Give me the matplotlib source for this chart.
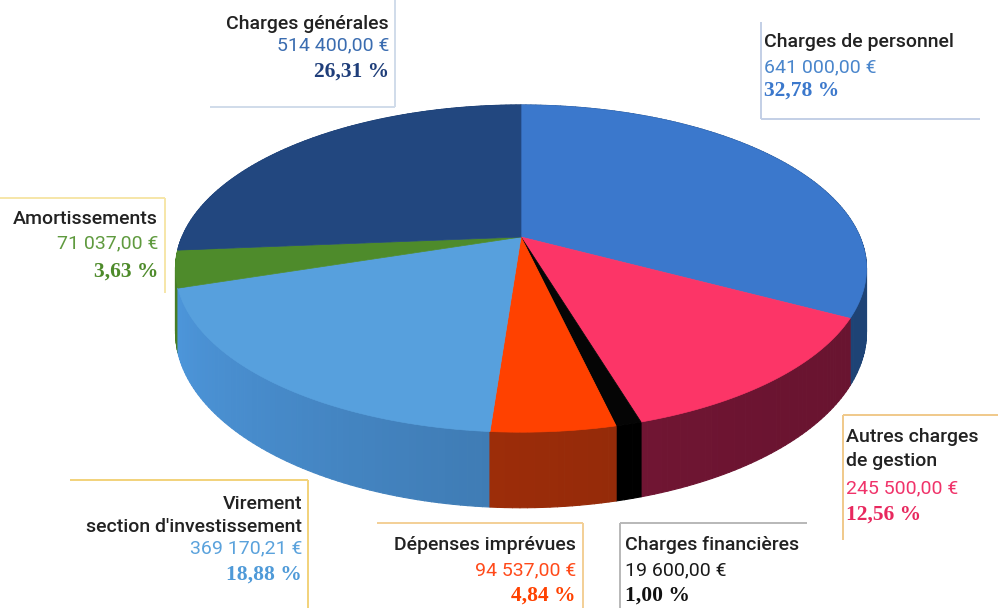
import numpy as np
import matplotlib
matplotlib.use("Agg")
import matplotlib.pyplot as plt
from matplotlib.collections import PolyCollection
from matplotlib.colors import to_rgb

# ---------------- data ----------------
categories = ["Charges de personnel", "Autres charges\nde gestion", "Charges financières",
              "Dépenses imprévues", "Virement\nsection d'investissement",
              "Amortissements", "Charges générales"]
values = [641000.00, 245500.00, 19600.00, 94537.00, 369170.21, 71037.00, 514400.00]
top_colors = ["#3b78cc", "#fc3567", "#050505", "#ff4100", "#57a0dd", "#4e8b2b", "#22477f"]
side_colors = ["#24528f", "#80183a", "#000000", "#a8300a", "#4485c2", "#3f6f20", "#1a3a6a"]
value_colors = ["#4a86cc", "#f0336a", "#1a1a1a", "#ff4a1a", "#5aa2dc", "#5f9a3e", "#3a6cb0"]
pct_colors = ["#3b78cc", "#e8285e", "#111111", "#ff4100", "#4f9ad8", "#4e8b2b", "#1f3e7a"]
border_colors = ["#c3cfe6", "#f0c98a", "#b8b8b8", "#f3cf96", "#f2d27a", "#f6e6a8", "#d0dcea"]

# ---------------- helpers ----------------
def fr_money(v):
    s = f"{v:,.2f}".replace(",", " ").replace(".", ",")
    return s + " €"

def fr_pct(p):
    return f"{p:.2f}".replace(".", ",") + " %"

total = sum(values)
pcts = [v / total * 100 for v in values]

# pie geometry (pixel space, perspective view)
cx, cy = 521.0, 237.0
A, B = 339.0, 157.5
k = 0.193
H = 61.0

def proj(t, drop=0.0):
    X = np.sin(t)
    Z = -np.cos(t)
    w = 1 - k * Z
    return cx + A * X / w, cy + (B * Z + drop) / w

fig = plt.figure(figsize=(9.98, 6.08), dpi=100)
ax = fig.add_axes([0, 0, 1, 1])
ax.set_xlim(0, 998)
ax.set_ylim(608, 0)
ax.axis("off")

fracs = np.array(values) / total
bounds = np.concatenate([[0], np.cumsum(fracs)]) * 2 * np.pi

# side walls
polys, cols, depth = [], [], []
for i in range(len(values)):
    t0, t1 = bounds[i], bounds[i + 1]
    n = max(2, int(np.degrees(t1 - t0)))
    ts = np.linspace(t0, t1, n + 1)
    base = np.array(to_rgb(side_colors[i]))
    for a, b in zip(ts[:-1], ts[1:]):
        ua, va = proj(a)
        ub, vb = proj(b)
        uA, vA = proj(a, H)
        uB, vB = proj(b, H)
        polys.append([(ua, va), (ub, vb), (uB, vB), (uA, vA)])
        tm = 0.5 * (a + b)
        f = 1.0 - 0.16 * np.sin(tm) - 0.08 * max(0.0, -np.cos(tm))
        cols.append(np.clip(base * f, 0, 1))
        depth.append(-np.cos(tm))
order = np.argsort(depth)
pc = PolyCollection([polys[j] for j in order], facecolors=[cols[j] for j in order],
                    edgecolors=[cols[j] for j in order], linewidths=0.8)
ax.add_collection(pc)

# top faces
for i in range(len(values)):
    t0, t1 = bounds[i], bounds[i + 1]
    ts = np.linspace(t0, t1, max(3, int(np.degrees(t1 - t0)) * 2))
    pts = [(cx, cy)] + [proj(t) for t in ts]
    ax.add_patch(plt.Polygon(pts, closed=True, facecolor=top_colors[i],
                             edgecolor=top_colors[i], linewidth=0.5))

# ---------------- labels ----------------
label_font = ["DejaVu Sans Condensed", "Roboto", "DejaVu Sans"]
pct_font = ["Liberation Serif", "DejaVu Serif"]
fs = 14
fs_pct = 15.5

layout = [
    dict(x=764, ha="left", base=[47, 72, 96],
         border=[((761, 761), (22, 119)), ((761, 980), (119, 119))]),
    dict(x=846, ha="left", base=[442, 466, 493, 520],
         border=[((843, 843), (415, 540)), ((843, 998), (415, 415))]),
    dict(x=625, ha="left", base=[550, 575, 601],
         border=[((620, 620), (523, 608)), ((620, 807), (523, 523))]),
    dict(x=576, ha="right", base=[550, 575, 601],
         border=[((583, 583), (523, 608)), ((377, 583), (523, 523))]),
    dict(x=302, ha="right", base=[509, 532, 553, 580],
         border=[((308, 308), (480, 608)), ((70, 308), (480, 480))]),
    dict(x=158, ha="right", base=[224, 248, 277],
         border=[((165, 165), (198, 293)), ((0, 165), (198, 198))]),
    dict(x=389, ha="right", base=[29, 50, 77],
         border=[((395, 395), (0, 107)), ((210, 395), (107, 107))]),
]

for i, lay in enumerate(layout):
    for (xs, ys) in lay["border"]:
        ax.plot(xs, ys, color=border_colors[i], lw=1.4, solid_capstyle="butt")
    lines = categories[i].split("\n")
    bl = lay["base"]
    for j, ln in enumerate(lines):
        ax.text(lay["x"], bl[j], ln, ha=lay["ha"], va="baseline", fontsize=fs,
                family=label_font, fontweight="medium", color="#222222")
    ax.text(lay["x"], bl[len(lines)], fr_money(values[i]), ha=lay["ha"], va="baseline",
            fontsize=fs, family=label_font, color=value_colors[i])
    ax.text(lay["x"], bl[len(lines) + 1], fr_pct(pcts[i]), ha=lay["ha"], va="baseline",
            fontsize=fs_pct, family=pct_font, fontweight="bold", color=pct_colors[i])

fig.savefig("out.png", dpi=100)
